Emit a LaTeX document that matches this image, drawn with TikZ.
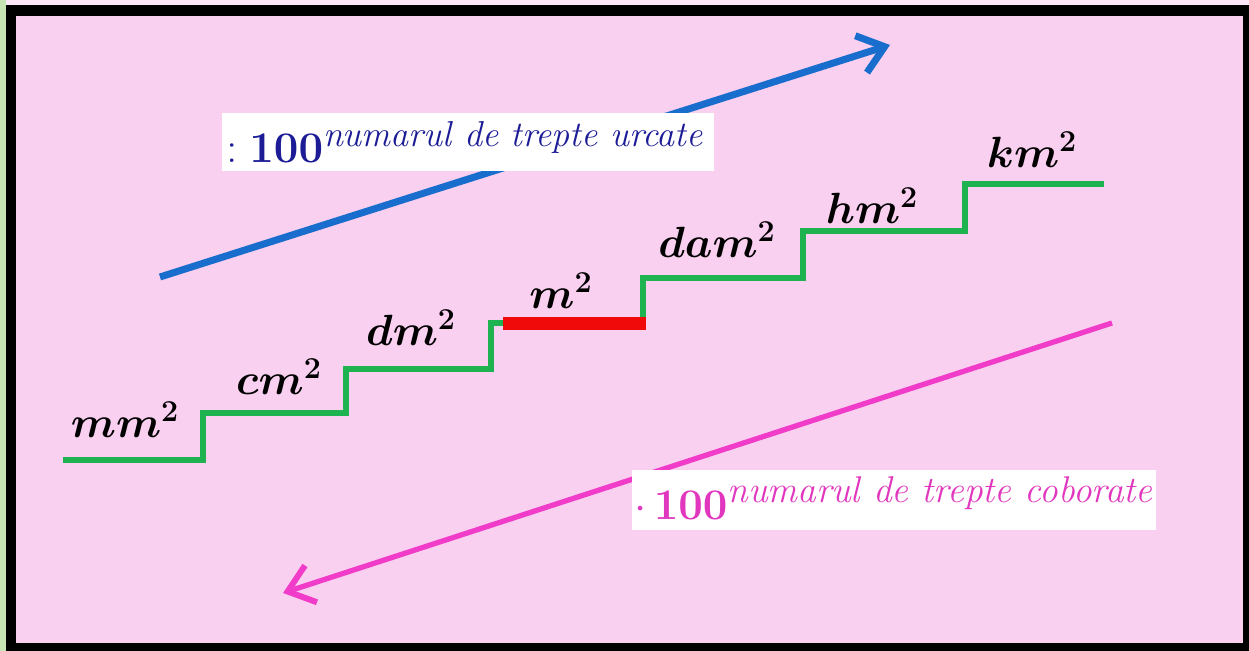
\documentclass[tikz,border=0pt]{standalone}
\usepackage{amsmath}
\usepackage{bm}
\usetikzlibrary{arrows.meta}
\definecolor{bgpink}{RGB}{250,208,240}
\definecolor{stripepink}{RGB}{252,232,248}
\definecolor{stripegreen}{RGB}{198,229,179}
\definecolor{stairgreen}{RGB}{30,178,80}
\definecolor{stairred}{RGB}{240,10,10}
\definecolor{arrowblue}{RGB}{25,110,205}
\definecolor{arrowmag}{RGB}{240,60,200}
\definecolor{textblue}{RGB}{28,28,150}
\definecolor{textmag}{RGB}{225,55,190}
\tikzset{
  unitlabel/.style={font=\fontsize{23.5}{28}\selectfont, inner sep=0pt},
  stair/.style={draw=stairgreen, line width=3.4pt, line join=miter},
}
\begin{document}
\begin{tikzpicture}[x=0.02cm,y=-0.02cm]
\useasboundingbox (0,0) rectangle (1249,651);
% frame
\fill[black] (0,0) rectangle (1249,651);
\fill[stripepink] (0,0) rectangle (1249,5);
\fill[stripegreen] (0,0) rectangle (6,651);
\fill[bgpink] (16,16) rectangle (1243,643);
% stairs
\draw[stair] (63,460) -- (203,460) -- (203,413) -- (346,413) -- (346,369) -- (491,369) -- (491,323) -- (505,323);
\draw[stair] (643,323) -- (643,278) -- (803,278) -- (803,231) -- (965,231) -- (965,184) -- (1104,184);
\draw[draw=stairred, line width=7.4pt] (503,323.5) -- (646,323.5);
% labels
\node[unitlabel] (mm) at (125,420) {$\bm{mm^2}$};
\node[unitlabel] (cm) at (279,377) {$\bm{cm^2}$};
\node[unitlabel] (dm) at (411,328) {$\bm{dm^2}$};
\node[unitlabel] (m) at (561,291) {$\bm{m^2}$};
\node[unitlabel] (dam) at (717,240) {$\bm{dam^2}$};
\node[unitlabel] (hm) at (872,206) {$\bm{hm^2}$};
\node[unitlabel] (km) at (1032,150) {$\bm{km^2}$};
% arrows
\coordinate (bs) at (160,277);
\coordinate (be) at (890,45);
\draw[arrowblue, line width=4pt, -{Straight Barb[length=14pt,width=22pt,line width=4pt]}] (bs) -- (be);
\coordinate (ms) at (1112,323);
\coordinate (me) at (283,593);
\draw[arrowmag, line width=3pt, -{Straight Barb[length=14pt,width=22pt,line width=3.4pt]}] (ms) -- (me);
% rule boxes
\fill[white] (222,113) rectangle (714,171);
\node[anchor=west, inner sep=0pt, text=textblue, font=\fontsize{27}{32}\selectfont] (up) at (226,142)
  {$:\mathbf{100}^{\text{\itshape\fontsize{20.5}{24}\selectfont numarul de trepte urcate}}$};
\fill[white] (632,470) rectangle (1156,530);
\node[anchor=west, inner sep=0pt, text=textmag, font=\fontsize{27}{32}\selectfont] (down) at (634,498)
  {$\cdot\,\mathbf{100}^{\text{\itshape\fontsize{21.2}{25}\selectfont numarul de trepte coborate}}$};
\end{tikzpicture}
\end{document}
